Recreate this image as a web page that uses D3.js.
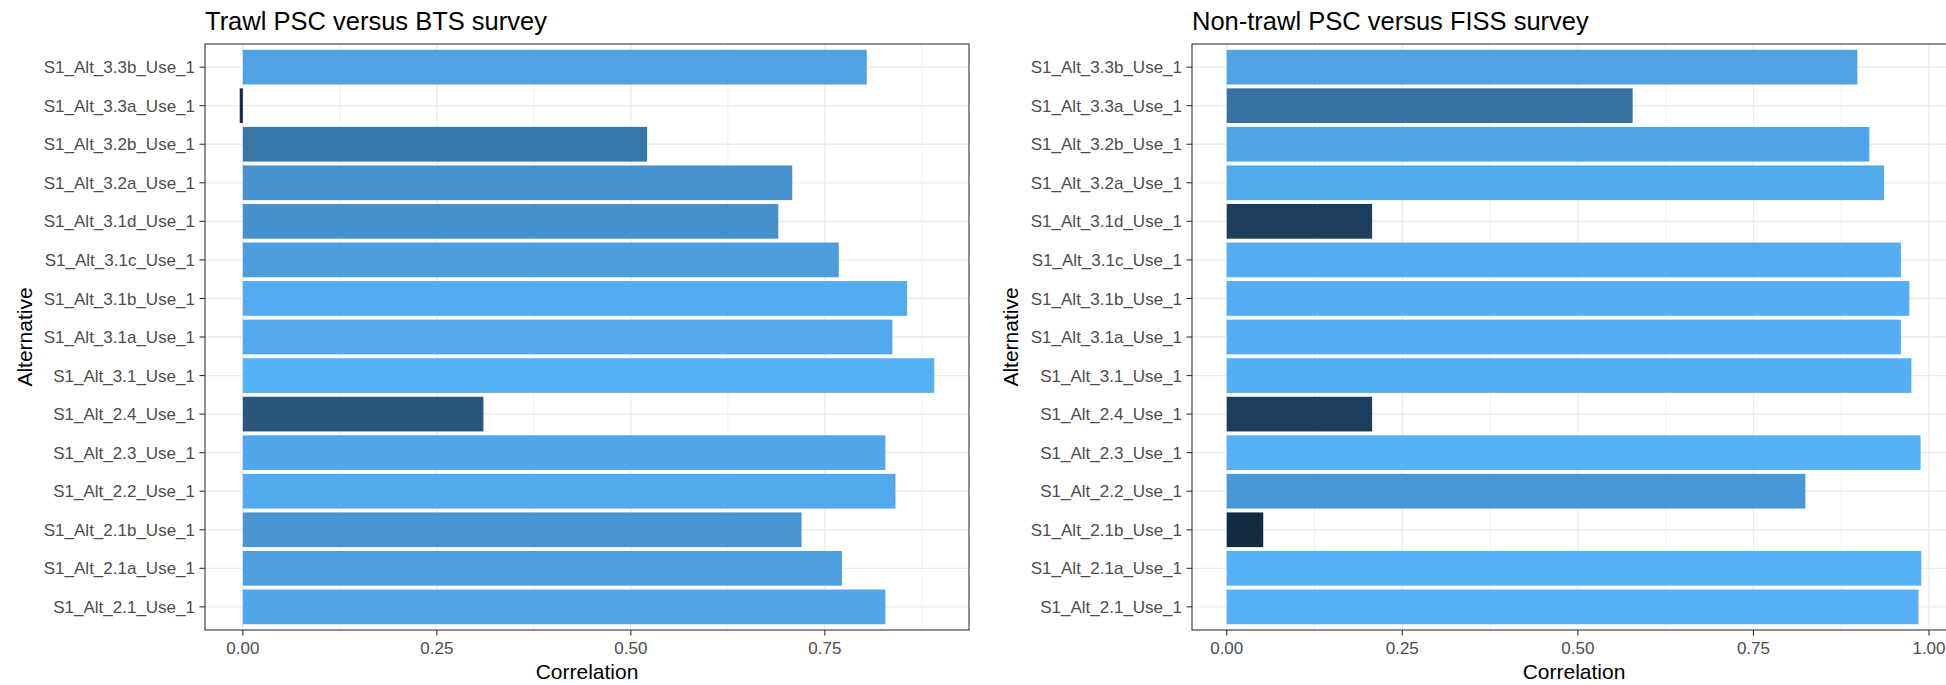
<!DOCTYPE html>
<html>
<head>
<meta charset="utf-8">
<script src="https://cdn.jsdelivr.net/npm/d3@7"></script>
<style>
  body { margin: 0; background: #fff; }
  text { font-family: "Liberation Sans", Arial, sans-serif; }
</style>
</head>
<body>
<script>
// categories, top to bottom as they show in the chart
var categories = ["S1_Alt_3.3b_Use_1","S1_Alt_3.3a_Use_1","S1_Alt_3.2b_Use_1","S1_Alt_3.2a_Use_1",
                  "S1_Alt_3.1d_Use_1","S1_Alt_3.1c_Use_1","S1_Alt_3.1b_Use_1","S1_Alt_3.1a_Use_1",
                  "S1_Alt_3.1_Use_1","S1_Alt_2.4_Use_1","S1_Alt_2.3_Use_1","S1_Alt_2.2_Use_1",
                  "S1_Alt_2.1b_Use_1","S1_Alt_2.1a_Use_1","S1_Alt_2.1_Use_1"];

var trawlValues    = [0.804,-0.004,0.521,0.708,0.690,0.768,0.856,0.837,0.891,0.310,0.828,0.841,0.720,0.772,0.828];
var nonTrawlValues = [0.898,0.578,0.915,0.936,0.207,0.960,0.972,0.960,0.975,0.207,0.988,0.824,0.052,0.989,0.985];

var majorTicks = [0, 0.25, 0.5, 0.75, 1];
var minorTicks = [0.125, 0.375, 0.625, 0.875];

var titles = ["Trawl PSC versus BTS survey", "Non-trawl PSC versus FISS survey"];

var svg = d3.select("body").append("svg").attr("width",1946).attr("height",685);

var panelTop = 44, panelBottom = 630, panelWidth = 764;

function drawPanel(left, values, title, yTitleX) {
  var right = left + panelWidth;
  var lo = Math.min(0, d3.min(values)), hi = Math.max(0, d3.max(values));
  var pad = (hi - lo) * 0.05;

  var x = d3.scaleLinear().domain([lo - pad, hi + pad]).range([left, right]);
  var y = d3.scaleBand().domain(categories).range([panelTop, panelBottom])
            .paddingInner(0.1).paddingOuter(0.15);
  var color = d3.scaleLinear().domain([d3.min(values), d3.max(values)])
            .range(["#132B43","#56B1F7"]).interpolate(d3.interpolateLab);

  var g = svg.append("g");
  var dom = x.domain();

  // grid
  g.selectAll("line.minor").data(minorTicks.filter(function(d){ return d>=dom[0] && d<=dom[1]; }))
    .enter().append("line")
      .attr("x1",function(d){ return x(d); }).attr("x2",function(d){ return x(d); })
      .attr("y1",panelTop).attr("y2",panelBottom)
      .attr("stroke","#F0F0F0").attr("stroke-width",1);
  var ticks = majorTicks.filter(function(d){ return d>=dom[0] && d<=dom[1]; });
  g.selectAll("line.major").data(ticks)
    .enter().append("line")
      .attr("x1",function(d){ return x(d); }).attr("x2",function(d){ return x(d); })
      .attr("y1",panelTop).attr("y2",panelBottom)
      .attr("stroke","#EBEBEB").attr("stroke-width",1.3);
  g.selectAll("line.hgrid").data(categories)
    .enter().append("line")
      .attr("x1",left).attr("x2",right)
      .attr("y1",function(d){ return y(d)+y.bandwidth()/2; })
      .attr("y2",function(d){ return y(d)+y.bandwidth()/2; })
      .attr("stroke","#EBEBEB").attr("stroke-width",1.3);

  // bars
  g.selectAll("rect.bar").data(values)
    .enter().append("rect")
      .attr("x",function(d){ return x(Math.min(0,d)); })
      .attr("width",function(d){ return Math.abs(x(d)-x(0)); })
      .attr("y",function(d,i){ return y(categories[i]); })
      .attr("height",y.bandwidth())
      .attr("fill",function(d){ return color(d); });

  // panel border
  g.append("rect")
    .attr("x",left).attr("y",panelTop)
    .attr("width",panelWidth).attr("height",panelBottom-panelTop)
    .attr("fill","none").attr("stroke","#333333").attr("stroke-width",1.1);

  // y ticks + labels
  g.selectAll("line.ytick").data(categories)
    .enter().append("line")
      .attr("x1",left-5.5).attr("x2",left)
      .attr("y1",function(d){ return y(d)+y.bandwidth()/2; })
      .attr("y2",function(d){ return y(d)+y.bandwidth()/2; })
      .attr("stroke","#333333").attr("stroke-width",1.1);
  g.selectAll("text.ylab").data(categories)
    .enter().append("text")
      .text(function(d){ return d; })
      .attr("x",left-10)
      .attr("y",function(d){ return y(d)+y.bandwidth()/2; })
      .attr("dy","0.36em")
      .attr("text-anchor","end")
      .attr("font-size","17px")
      .attr("fill","#4D4D4D");

  // x ticks + labels
  g.selectAll("line.xtick").data(ticks)
    .enter().append("line")
      .attr("x1",function(d){ return x(d); }).attr("x2",function(d){ return x(d); })
      .attr("y1",panelBottom).attr("y2",panelBottom+5.5)
      .attr("stroke","#333333").attr("stroke-width",1.1);
  g.selectAll("text.xlab").data(ticks)
    .enter().append("text")
      .text(function(d){ return d3.format(".2f")(d); })
      .attr("x",function(d){ return x(d); })
      .attr("y",654)
      .attr("text-anchor","middle")
      .attr("font-size","17px")
      .attr("fill","#4D4D4D");

  // titles
  g.append("text").text(title)
    .attr("x",left).attr("y",30)
    .attr("font-size","25.5px").attr("fill","#000");
  g.append("text").text("Correlation")
    .attr("x",left+panelWidth/2).attr("y",679)
    .attr("text-anchor","middle")
    .attr("font-size","21px").attr("fill","#000");
  g.append("text").text("Alternative")
    .attr("transform","translate("+yTitleX+","+((panelTop+panelBottom)/2)+") rotate(-90)")
    .attr("dy","0.35em")
    .attr("text-anchor","middle")
    .attr("font-size","21px").attr("fill","#000");
}

drawPanel(205, trawlValues, titles[0], 25);
drawPanel(1192, nonTrawlValues, titles[1], 1011);
</script>
</body>
</html>
